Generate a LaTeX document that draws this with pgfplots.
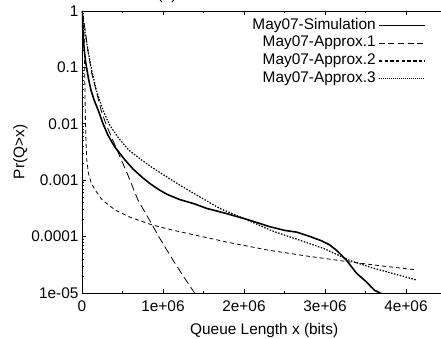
\documentclass[border=0pt]{standalone}
\usepackage{fontspec}
\setmainfont{Liberation Sans}
\usepackage{pgfplots}
\pgfplotsset{compat=1.18}
\pgfplotstableread{
x y
0 1
5e3 0.708
1e4 0.501
2e4 0.282
3e4 0.191
4.5e4 0.126
6e4 0.0933
8e4 0.0631
1.1e5 0.0398
1.5e5 0.0263
2.0e5 0.0174
2.6e5 0.0100
3.2e5 0.00631
4.0e5 0.00398
5.3e5 0.00229
6.3e5 0.00158
7.35e5 0.00115
8.3e5 0.000891
9.4e5 0.000692
1.05e6 0.000562
1.2e6 0.000457
1.39e6 0.000380
1.54e6 0.000316
1.78e6 0.000257
2.07e6 0.000195
2.31e6 0.000151
2.5e6 0.000129
2.65e6 0.000120
2.8e6 0.000102
2.95e6 0.0000851
3.05e6 0.0000724
3.14e6 0.0000575
3.26e6 0.0000389
3.39e6 0.0000224
3.51e6 0.0000158
3.61e6 0.0000112
3.71e6 0.0000095
}\simdata
\pgfplotstableread{
x y
0 1
2e4 0.708
4.5e4 0.398
7.4e4 0.195
1.2e5 0.0794
1.76e5 0.0380
2.4e5 0.0166
3.0e5 0.00955
4.5e5 0.00302
5.7e5 0.00120
6.9e5 0.000447
8.3e5 0.000200
9.6e5 0.0000933
1.12e6 0.0000389
1.25e6 0.0000200
1.39e6 0.0000100
1.45e6 0.0000076
}\apxone
\pgfplotstableread{
x y
0 1
1.5e4 0.794
2.5e4 0.398
3.2e4 0.126
3.7e4 0.0316
4.3e4 0.0100
5e4 0.00447
6e4 0.00224
8e4 0.00132
1.1e5 0.000933
1.6e5 0.000676
2.5e5 0.000447
4.1e5 0.000295
6e5 0.000219
8.6e5 0.000162
1.1e6 0.000132
1.39e6 0.000107
1.8e6 0.0000794
2.3e6 0.0000575
2.8e6 0.0000447
3.26e6 0.0000363
3.7e6 0.0000302
4.13e6 0.0000257
}\apxtwo
\pgfplotstableread{
x y
0 1
2e4 0.631
5e4 0.316
8e4 0.178
1.2e5 0.0891
1.8e5 0.0380
2.6e5 0.0174
3.4e5 0.00955
4.5e5 0.00562
5.8e5 0.00339
7.35e5 0.00229
8.5e5 0.00174
1.0e6 0.00126
1.2e6 0.000832
1.4e6 0.000562
1.7e6 0.000316
1.95e6 0.000224
2.35e6 0.000126
2.68e6 0.0000871
3.0e6 0.0000603
3.3e6 0.0000380
3.6e6 0.0000275
4.13e6 0.0000170
}\apxthree
\begin{document}
\begin{tikzpicture}[font=\fontsize{15.4}{18}\selectfont]
\begin{axis}[name=ax, scale only axis, width=364.5pt, height=282pt,
  xmin=0, xmax=4.5e6, ymode=log, ymin=1e-5, ymax=1,
  xtick={0,1e6,2e6,3e6,4e6}, xticklabels={0,1e+06,2e+06,3e+06,4e+06},
  minor xtick={5e5,1.5e6,2.5e6,3.5e6},
  ytick={1e-5,1e-4,1e-3,1e-2,1e-1,1},
  yticklabels={1e-05,0.0001,0.001,0.01,0.1,1},
  /pgf/number format/assume math mode=true,
  ytick pos=left, tick align=inside,
  major tick length=4pt, minor tick length=2pt,
  axis line style={line width=0.9pt}, every tick/.style={line width=0.7pt, black},
  scaled x ticks=false,
  xticklabel style={yshift=-4pt},
  xlabel={Queue Length x (bits)}, ylabel={Pr(Q>x)},
  xlabel style={yshift=-5pt},
  ylabel style={yshift=-3pt},
  legend plot pos=right, legend cell align=right,
  legend style={draw=none, fill=none, at={(0.943,0.977)}, anchor=north east,
    inner sep=0pt, row sep=2.3pt, column sep=2pt,
    nodes={inner sep=0.5pt, text height=11pt, text depth=3.5pt}},
  legend image code/.code={\draw[#1] (0pt,0pt) -- (46pt,0pt);},
  clip=true,
]
\addlegendimage{black, line width=0.8pt}
\addlegendentry{May07-Simulation}
\addlegendimage{black, line width=1.3pt, dash pattern=on 6pt off 3.6pt}
\addlegendentry{May07-Approx.1}
\addlegendimage{black, line width=1.3pt, dash pattern=on 3.5pt off 2.2pt}
\addlegendentry{May07-Approx.2}
\addlegendimage{black, line width=0.8pt, dash pattern=on 1pt off 1pt}
\addlegendentry{May07-Approx.3}
\addplot[black, line width=1.6pt, forget plot] table {\simdata};
\addplot[black, line width=0.8pt, dash pattern=on 8pt off 4pt, forget plot] table {\apxone};
\addplot[black, line width=0.8pt, dash pattern=on 4pt off 3pt, forget plot] table {\apxtwo};
\addplot[black, line width=1.2pt, dash pattern=on 1.5pt off 1.5pt, forget plot] table {\apxthree};
\end{axis}
\node[anchor=base] at ([xshift=85pt,yshift=11.5pt]ax.north west) {(a)};
\pgfresetboundingbox
\path[use as bounding box] ([xshift=-82pt,yshift=-46pt]ax.south west) rectangle ([xshift=359pt,yshift=11pt]ax.north west);
\end{tikzpicture}
\end{document}
